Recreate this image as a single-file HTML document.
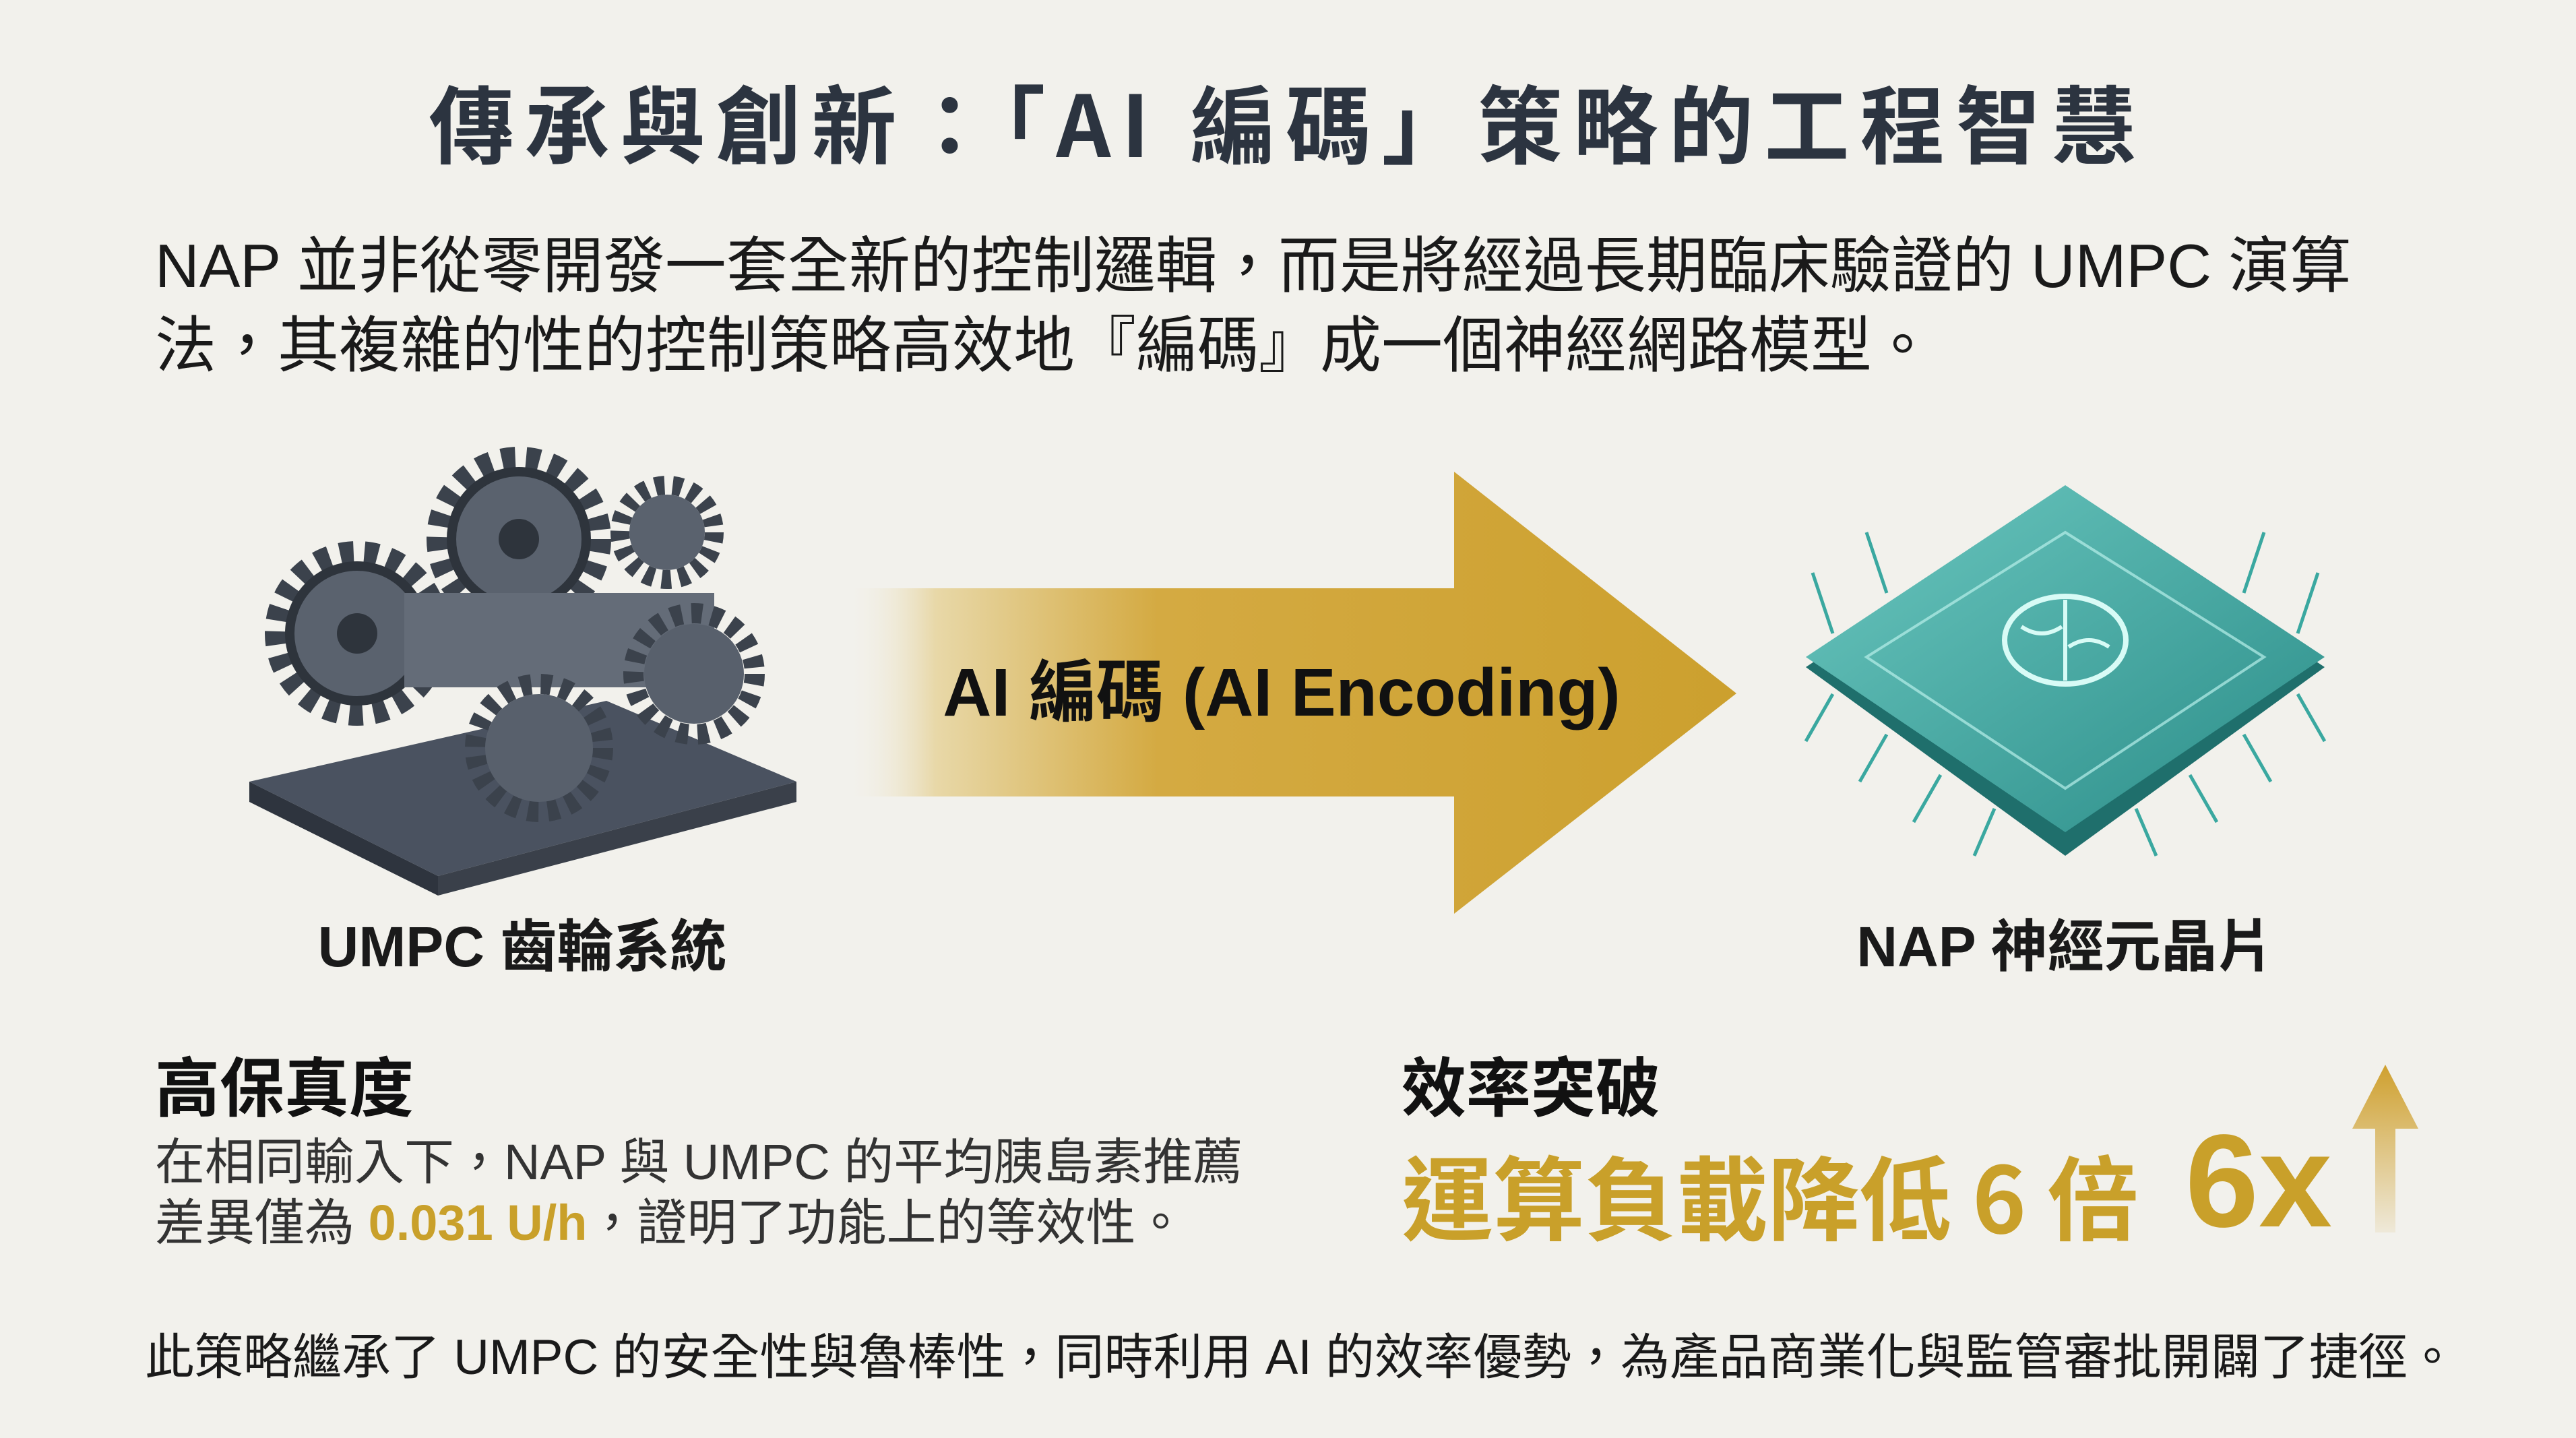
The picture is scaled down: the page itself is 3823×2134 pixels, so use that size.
<!DOCTYPE html>
<html><head><meta charset="utf-8"><style>
html,body{margin:0;padding:0}
body{width:3823px;height:2134px;background:#f2f1ec;position:relative;overflow:hidden;font-family:"Liberation Sans","Noto Sans CJK TC",sans-serif;}
.t{position:absolute;white-space:nowrap;line-height:1;}
.b{font-weight:bold;}
</style></head><body>
<div class="t b" style="left:0;width:3823px;text-align:center;top:116px;font-size:126px;letter-spacing:16px;color:#2c3440;font-family:'Noto Sans CJK TC',sans-serif;">傳承與創新：「AI 編碼」策略的工程智慧</div>
<div class="t" style="left:230px;top:350px;font-size:91px;color:#1a1a1a;">NAP 並非從零開發一套全新的控制邏輯，而是將經過長期臨床驗證的 UMPC 演算</div>
<div class="t" style="left:230px;top:468px;font-size:91px;color:#1a1a1a;">法，其複雜的性的控制策略高效地『編碼』成一個神經網路模型。</div>

<svg style="position:absolute;left:0;top:0" width="3823" height="2134">
<defs>
<linearGradient id="ag" x1="1256" x2="2577" y1="0" y2="0" gradientUnits="userSpaceOnUse">
<stop offset="0" stop-color="#f2f1ec" stop-opacity="0"/>
<stop offset="0.1" stop-color="#e8d8a8"/>
<stop offset="0.35" stop-color="#d4aa42"/>
<stop offset="1" stop-color="#cca02e"/>
</linearGradient>
<linearGradient id="up" x1="0" y1="1580" x2="0" y2="1829" gradientUnits="userSpaceOnUse">
<stop offset="0" stop-color="#cfa02e"/><stop offset="1" stop-color="#cfa02e" stop-opacity="0.1"/>
</linearGradient>
<linearGradient id="chip" x1="0" y1="0" x2="1" y2="1">
<stop offset="0" stop-color="#6cc8c0"/><stop offset="1" stop-color="#2a8c88"/>
</linearGradient>
</defs>
<polygon points="1256,873 2158,873 2158,700 2577,1029 2158,1356 2158,1182 1256,1182" fill="url(#ag)"/>
<g>
<polygon points="370,1160 900,1040 1182,1160 650,1300" fill="#4a5260"/>
<polygon points="370,1160 650,1300 650,1329 370,1190" fill="#2e343e"/>
<polygon points="650,1300 1182,1160 1182,1190 650,1329" fill="#3a404a"/>
<circle cx="530" cy="940" r="120" fill="none" stroke="#3b424c" stroke-width="34" stroke-dasharray="20 16"/>
<circle cx="530" cy="940" r="100" fill="#5a626e" stroke="#2e343c" stroke-width="14"/>
<circle cx="530" cy="940" r="30" fill="#2e343c"/>
<circle cx="770" cy="800" r="120" fill="none" stroke="#3b424c" stroke-width="34" stroke-dasharray="20 16"/>
<circle cx="770" cy="800" r="100" fill="#5a626e" stroke="#2e343c" stroke-width="14"/>
<circle cx="770" cy="800" r="30" fill="#2e343c"/>
<circle cx="990" cy="790" r="70" fill="none" stroke="#3b424c" stroke-width="28" stroke-dasharray="14 12"/>
<circle cx="990" cy="790" r="56" fill="#5a626e"/>
<rect x="600" y="880" width="460" height="140" fill="#646c78"/>
<circle cx="800" cy="1110" r="95" fill="none" stroke="#3b424c" stroke-width="30" stroke-dasharray="16 14"/>
<circle cx="800" cy="1110" r="80" fill="#58606c"/>
<circle cx="1030" cy="1000" r="90" fill="none" stroke="#3b424c" stroke-width="30" stroke-dasharray="16 14"/>
<circle cx="1030" cy="1000" r="74" fill="#58606c"/>
</g>
<g>
<polygon points="3065,735 3450,990 3065,1270 2680,990" fill="#1f6f6c"/>
<polygon points="3065,720 3450,975 3065,1235 2680,975" fill="url(#chip)"/>
<polygon points="3065,790 3360,975 3065,1170 2770,975" fill="none" stroke="#b8f0ea" stroke-width="4" opacity="0.7"/>
<ellipse cx="3065" cy="950" rx="90" ry="65" fill="none" stroke="#d8fbf6" stroke-width="8"/>
<path d="M3065 890 V1010 M3000 930 q30 20 60 0 M3070 960 q30 -20 60 0" stroke="#d8fbf6" stroke-width="6" fill="none"/>
<g stroke="#3aa8a0" stroke-width="5">
<line x1="2720" y1="1030" x2="2680" y2="1100"/><line x1="2800" y1="1090" x2="2760" y2="1160"/><line x1="2880" y1="1150" x2="2840" y2="1220"/><line x1="2960" y1="1200" x2="2930" y2="1270"/>
<line x1="3410" y1="1030" x2="3450" y2="1100"/><line x1="3330" y1="1090" x2="3370" y2="1160"/><line x1="3250" y1="1150" x2="3290" y2="1220"/><line x1="3170" y1="1200" x2="3200" y2="1270"/>
<line x1="2720" y1="940" x2="2690" y2="850"/><line x1="2800" y1="880" x2="2770" y2="790"/><line x1="3410" y1="940" x2="3440" y2="850"/><line x1="3330" y1="880" x2="3360" y2="790"/>
</g>
</g>
<polygon points="3540,1580 3589,1675 3555,1675 3555,1829 3525,1829 3525,1675 3491,1675" fill="url(#up)"/>
</svg>

<div class="t b" style="left:0;width:3804px;text-align:center;top:978px;font-size:100px;color:#111;">AI 編碼 (AI Encoding)</div>
<div class="t b" style="left:375px;width:800px;text-align:center;top:1363px;font-size:84px;color:#1a1a1a;">UMPC 齒輪系統</div>
<div class="t b" style="left:2665px;width:800px;text-align:center;top:1363px;font-size:84px;color:#1a1a1a;">NAP 神經元晶片</div>

<div class="t b" style="left:230px;top:1560px;font-size:96px;color:#111;font-family:'Noto Sans CJK TC',sans-serif;">高保真度</div>
<div class="t" style="left:230px;top:1688px;font-size:74px;color:#333;">在相同輸入下，NAP 與 UMPC 的平均胰島素推薦</div>
<div class="t" style="left:230px;top:1778px;font-size:74px;color:#333;">差異僅為 <span class="b" style="color:#c9a02a">0.031 U/h</span>，證明了功能上的等效性。</div>

<div class="t b" style="left:2080px;top:1560px;font-size:96px;color:#111;font-family:'Noto Sans CJK TC',sans-serif;">效率突破</div>
<div class="t b" style="left:2080px;top:1704px;font-size:136px;color:#c9a02a;font-family:'Noto Sans CJK TC',sans-serif;">運算負載降低 6 倍</div>
<div class="t b" style="left:3243px;top:1655px;font-size:196px;color:#c9a02a;">6x</div>

<div class="t" style="left:215px;top:1978px;font-size:73px;color:#1a1a1a;">此策略繼承了 UMPC 的安全性與魯棒性，同時利用 AI 的效率優勢，為產品商業化與監管審批開闢了捷徑。</div>
</body></html>
